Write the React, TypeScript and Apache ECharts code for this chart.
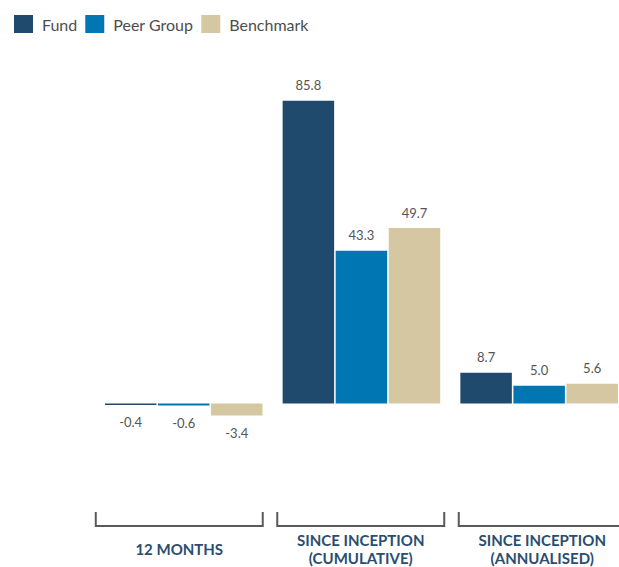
import React, { useEffect, useRef } from "react";
import * as echarts from "echarts";

const categories = ["12 MONTHS", "SINCE INCEPTION\n(CUMULATIVE)", "SINCE INCEPTION\n(ANNUALISED)"];
const seriesNames = ["Fund", "Peer Group", "Benchmark"];
const fundValues = [-0.4, 85.8, 8.7];
const peerValues = [-0.6, 43.3, 5.0];
const benchmarkValues = [-3.4, 49.7, 5.6];
const seriesColors = ["#1f4a6d", "#0077b3", "#d6c7a3"];

export default function App() {
  const ref = useRef<HTMLDivElement>(null);
  useEffect(() => {
    if (!ref.current) return;
    const chart = echarts.init(ref.current, null, { renderer: "svg" });
    const allValues = [fundValues, peerValues, benchmarkValues];
    const barSeries = allValues.map((vals, si) => ({
      type: "bar",
      name: seriesNames[si],
      xAxisIndex: 0,
      yAxisIndex: 0,
      barWidth: 51.5,
      barGap: "3%",
      itemStyle: { color: seriesColors[si] },
      label: {
        show: true,
        color: "#555555",
        fontSize: 13,
        fontFamily: "Lato",
        distance: 9,
        formatter: (p: any) => Number(p.value).toFixed(1),
      },
      data: vals.map((v) => ({
        value: v,
        label: { position: v < 0 ? "bottom" : "top", distance: v < 0 ? 11 : 9 },
      })),
    }));
    chart.setOption({
      animation: false,
      legend: {
        data: seriesNames,
        left: 14,
        top: 15,
        padding: 0,
        itemWidth: 19,
        itemHeight: 18,
        itemGap: 8,
        icon: "rect",
        textStyle: { fontSize: 16, color: "#4d4d4d", fontFamily: "Lato", padding: [0, 0, 0, 4] },
      },
      grid: [
        { left: 94.85, right: 12, top: 50.5, height: 388.3 },
        { left: 88.5, right: 7, top: 512, height: 16 },
      ],
      xAxis: [
        { gridIndex: 0, type: "category", data: categories, show: false },
        {
          gridIndex: 1,
          type: "category",
          data: categories,
          axisLine: { show: false },
          axisTick: { show: false },
          axisLabel: {
            margin: 23,
            verticalAlign: "middle",
            color: "#2b4d6f",
            fontSize: 15,
            fontWeight: "bold",
            fontFamily: "Lato",
            lineHeight: 18,
            interval: 0,
          },
        },
      ],
      yAxis: [
        { gridIndex: 0, type: "value", min: -10, max: 100, show: false },
        { gridIndex: 1, type: "value", min: 0, max: 1, show: false },
      ],
      series: [
        ...barSeries,
        {
          type: "custom",
          xAxisIndex: 1,
          yAxisIndex: 1,
          silent: true,
          clip: false,
          data: categories.map((_, i) => [i, 0]),
          renderItem: (params: any, api: any) => {
            const i = api.value(0);
            const bottom = api.coord([i, 0]);
            const top = api.coord([i, 1]);
            const w = api.size([1, 0])[0];
            const inset = w * 0.04;
            const x0 = bottom[0] - w / 2 + inset;
            const x1 = bottom[0] + w / 2 - inset;
            return {
              type: "polyline",
              shape: { points: [[x0, top[1]], [x0, bottom[1]], [x1, bottom[1]], [x1, top[1]]] },
              style: { stroke: "#5a5a5a", lineWidth: 2, fill: "none" },
            };
          },
        },
      ],
    });
    return () => chart.dispose();
  }, []);
  return (
    <div style={{ position: "fixed", left: 0, top: 0, width: 619, height: 567, overflow: "hidden", background: "#fff" }}>
      <div ref={ref} style={{ width: 640, height: 567 }} />
    </div>
  );
}
